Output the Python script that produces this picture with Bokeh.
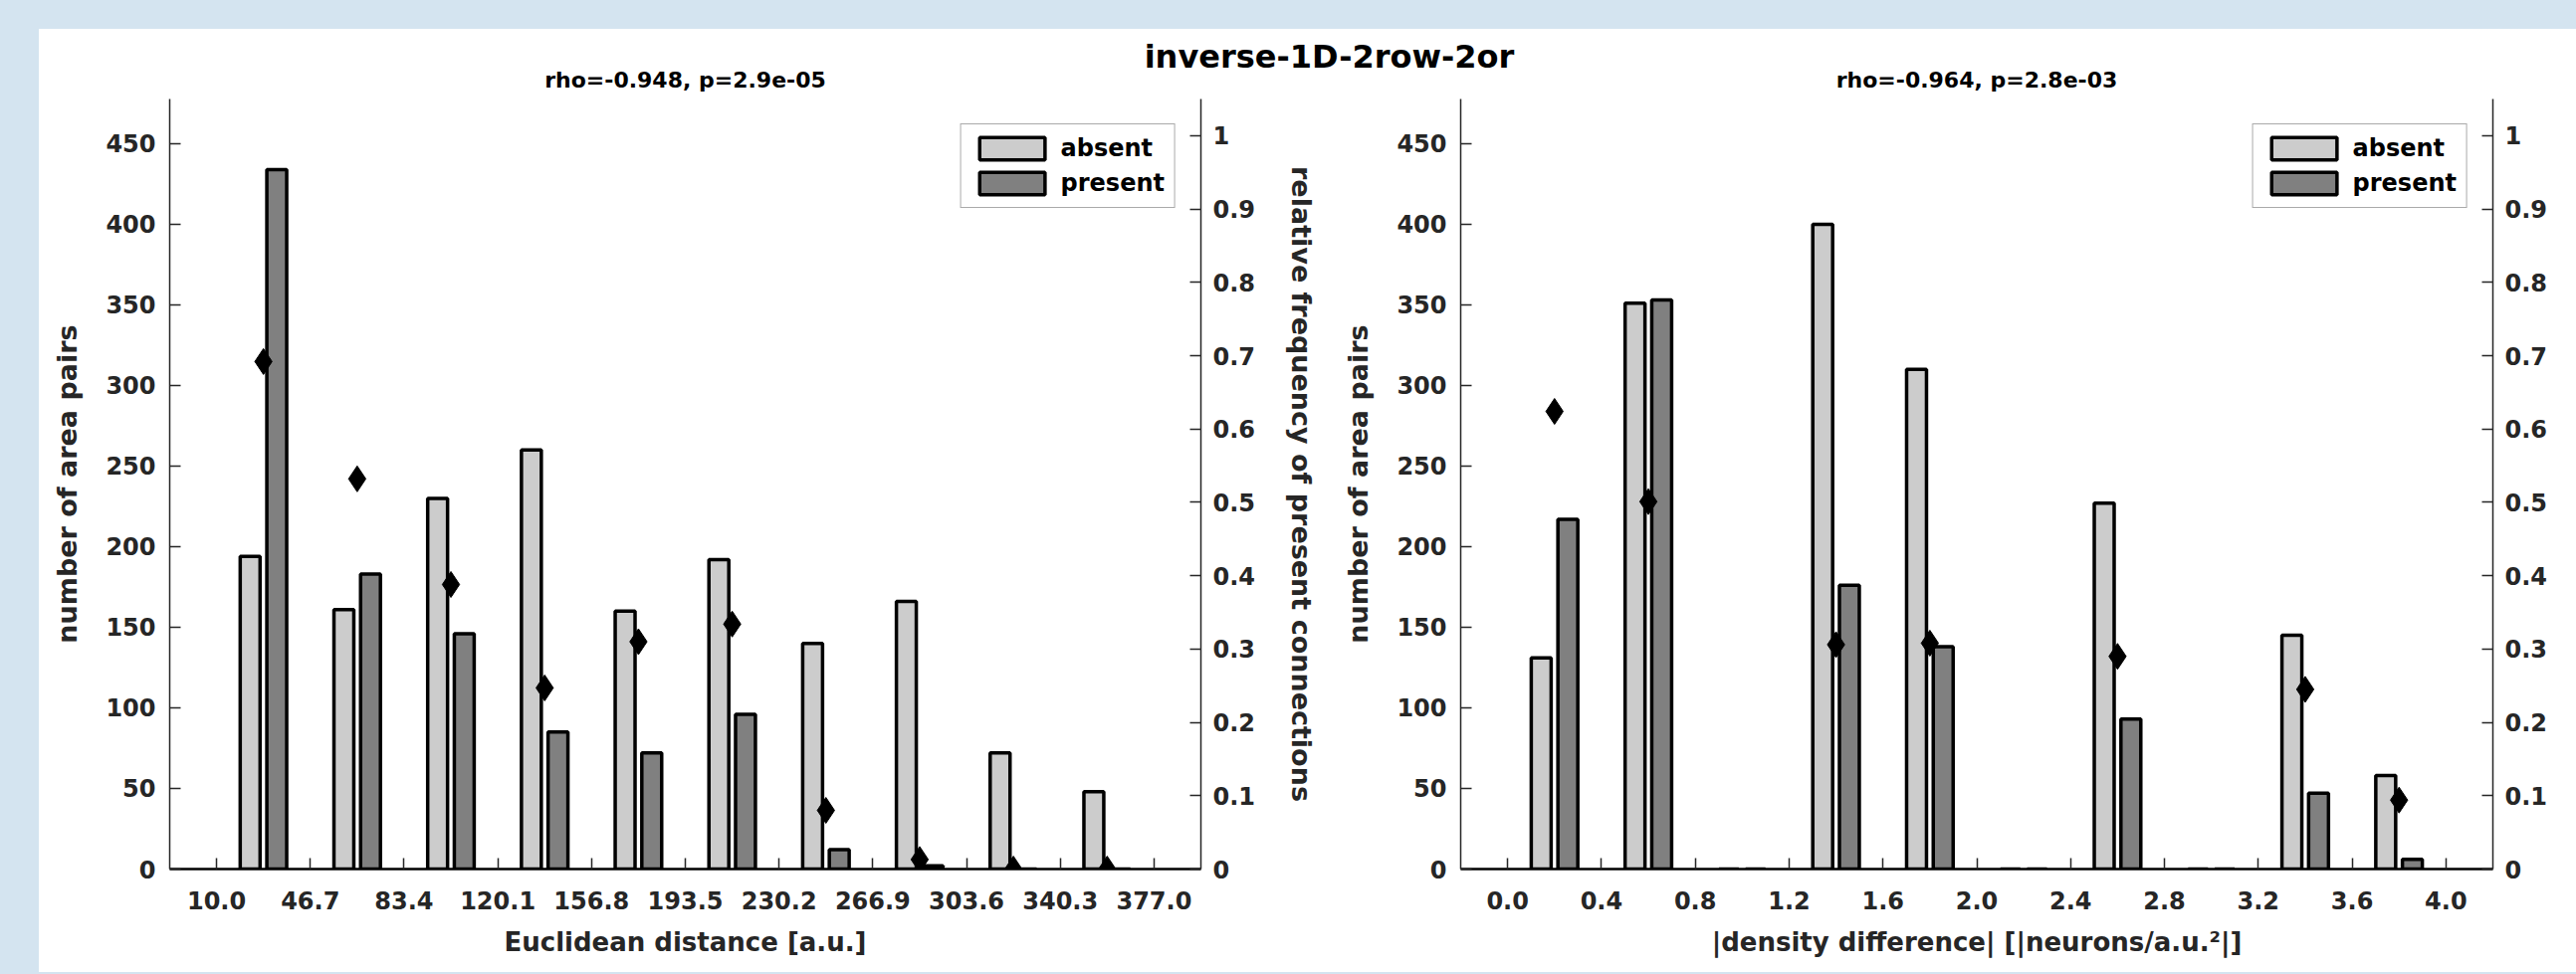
import math
from bokeh.plotting import figure
from bokeh.models import (Range1d, LinearAxis, FixedTicker, Legend, LegendItem, Label,
                          Spacer, GlobalInlineStyleSheet, NumeralTickFormatter)
from bokeh.layouts import row, column
from bokeh.embed import file_html
from bokeh.resources import INLINE

FONT = "DejaVu Sans"
NAN = float("nan")

# ---------------- data ----------------
title_text = "inverse-1D-2row-2or"
left_subtitle = "rho=-0.948, p=2.9e-05"
right_subtitle = "rho=-0.964, p=2.8e-03"

left_xlabel = "Euclidean distance [a.u.]"
right_xlabel = "|density difference| [|neurons/a.u.\u00b2|]"
count_label = "number of area pairs"
rel_label = "relative frequency of present connections"

left_ticks = [10.0, 46.7, 83.4, 120.1, 156.8, 193.5, 230.2, 266.9, 303.6, 340.3, 377.0]
left_tick_labels = ["10.0", "46.7", "83.4", "120.1", "156.8", "193.5", "230.2", "266.9", "303.6", "340.3", "377.0"]
left_centers = [28.35, 65.05, 101.75, 138.45, 175.15, 211.85, 248.55, 285.25, 321.95, 358.65]
left_absent = [194, 161, 230, 260, 160, 192, 140, 166, 72, 48]
left_present = [434, 183, 146, 85, 72, 96, 12, 2, 0, 0]
left_rel = [0.692, 0.532, 0.388, 0.247, 0.310, 0.334, 0.080, 0.013, 0.0, 0.0]

right_ticks = [0.0, 0.4, 0.8, 1.2, 1.6, 2.0, 2.4, 2.8, 3.2, 3.6, 4.0]
right_tick_labels = ["0.0", "0.4", "0.8", "1.2", "1.6", "2.0", "2.4", "2.8", "3.2", "3.6", "4.0"]
right_centers = [0.2, 0.6, 1.0, 1.4, 1.8, 2.2, 2.6, 3.0, 3.4, 3.8]
right_absent = [131, 351, 0, 400, 310, 0, 227, 0, 145, 58]
right_present = [217, 353, 0, 176, 138, 0, 93, 0, 47, 6]
right_rel = [0.624, 0.501, NAN, 0.306, 0.308, NAN, 0.290, NAN, 0.245, 0.094]

count_ticks = [0, 50, 100, 150, 200, 250, 300, 350, 400, 450]
count_tick_labels = ["0", "50", "100", "150", "200", "250", "300", "350", "400", "450"]
rel_ticks = [0, 0.1, 0.2, 0.3, 0.4, 0.5, 0.6, 0.7, 0.8, 0.9, 1]
rel_tick_labels = ["0", "0.1", "0.2", "0.3", "0.4", "0.5", "0.6", "0.7", "0.8", "0.9", "1"]

legend_labels = ["absent", "present"]
COUNT_MAX = 477.75
REL_MAX = 1.05

TEXT = "#262626"
ABSENT_COLOR = "#cccccc"
PRESENT_COLOR = "#808080"

LEFT_W = 1298
RIGHT_W = 1251
TITLE_W = LEFT_W + RIGHT_W
TITLE_H = 70
FIG_H = 878
FRAME_H = 774
BOT_B = FIG_H - FRAME_H


def style_axis(ax, label_size, label_standoff, tick_standoff):
    ax.major_label_text_font = FONT
    ax.major_label_text_font_style = "bold"
    ax.major_label_text_font_size = "24px"
    ax.major_label_text_color = TEXT
    ax.major_label_standoff = tick_standoff
    ax.axis_label_text_font = FONT
    ax.axis_label_text_font_style = "bold"
    ax.axis_label_text_font_size = label_size
    ax.axis_label_text_color = TEXT
    ax.axis_label_standoff = label_standoff
    ax.major_tick_in = 11
    ax.major_tick_out = 0
    ax.minor_tick_line_color = None
    ax.major_tick_line_color = TEXT
    ax.major_tick_line_width = 1.5
    ax.axis_line_color = TEXT
    ax.axis_line_width = 1.5


def make_panel(ticks, tick_labels, centers, absent, present, rel, xlabel,
               width, border_left, border_right, right_label):
    bw = ticks[1] - ticks[0]
    p = figure(width=width, height=FIG_H,
               x_range=Range1d(ticks[0] - bw / 2, ticks[-1] + bw / 2),
               y_range=Range1d(0, COUNT_MAX),
               output_backend="svg", toolbar_location=None,
               min_border_left=border_left, min_border_right=border_right,
               min_border_top=0, min_border_bottom=BOT_B,
               background_fill_color="white", border_fill_color="white")
    p.outline_line_color = None
    p.xgrid.grid_line_color = None
    p.ygrid.grid_line_color = None
    p.extra_y_ranges = {"rel": Range1d(0, REL_MAX)}

    off = 0.142 * bw
    w = 0.212 * bw
    ra = p.vbar(x=[c - off for c in centers], top=absent, bottom=0, width=w,
                fill_color=ABSENT_COLOR, line_color="black", line_width=3.5)
    rp = p.vbar(x=[c + off for c in centers], top=present, bottom=0, width=w,
                fill_color=PRESENT_COLOR, line_color="black", line_width=3.5)
    p.scatter(x=centers, y=rel, y_range_name="rel", marker="diamond", size=26,
              fill_color="black", line_color="black")

    # x axis
    xa = p.xaxis[0]
    xa.ticker = FixedTicker(ticks=ticks)
    xa.formatter = NumeralTickFormatter(format="0.0")
    xa.major_label_overrides = dict(zip(ticks, tick_labels))
    xa.axis_label = xlabel
    style_axis(xa, "26px", 15, 22)
    xa.axis_line_color = "black"
    xa.axis_line_width = 2.5

    # left y axis
    ya = p.yaxis[0]
    ya.ticker = FixedTicker(ticks=count_ticks)
    ya.major_label_overrides = dict(zip(count_ticks, count_tick_labels))
    ya.axis_label = count_label
    style_axis(ya, "27px", 20, 14)

    # right y axis
    yr = LinearAxis(y_range_name="rel", ticker=FixedTicker(ticks=rel_ticks),
                    formatter=NumeralTickFormatter(format="0.[0]"))
    yr.major_label_overrides = dict(zip(rel_ticks, rel_tick_labels))
    if right_label:
        yr.axis_label = rel_label
    style_axis(yr, "27px", 28, 12)
    p.add_layout(yr, "right")

    legend = Legend(items=[LegendItem(label=legend_labels[0], renderers=[ra]),
                           LegendItem(label=legend_labels[1], renderers=[rp])],
                    location="top_right")
    legend.label_text_font = FONT
    legend.label_text_font_style = "bold"
    legend.label_text_font_size = "24px"
    legend.label_text_color = "black"
    legend.border_line_color = "#555555"
    legend.border_line_width = 1.5
    legend.background_fill_color = "white"
    legend.background_fill_alpha = 1.0
    legend.glyph_width = 82
    legend.glyph_height = 28
    legend.label_height = 28
    legend.spacing = 7
    legend.padding = 10
    legend.margin = 25
    legend.label_standoff = 8
    p.add_layout(legend)
    return p


pl = make_panel(left_ticks, left_tick_labels, left_centers, left_absent, left_present, left_rel,
                left_xlabel, LEFT_W, 131, 131, True)
pr = make_panel(right_ticks, right_tick_labels, right_centers, right_absent, right_present, right_rel,
                right_xlabel, RIGHT_W, 130, 84, False)

# header strip: main title and the two panel titles
t = figure(width=TITLE_W, height=TITLE_H, x_range=Range1d(0, TITLE_W), y_range=Range1d(0, TITLE_H),
           x_axis_type=None, y_axis_type=None, toolbar_location=None, output_backend="svg",
           min_border=0, background_fill_color="white", border_fill_color="white")
t.outline_line_color = None
t.xgrid.grid_line_color = None
t.ygrid.grid_line_color = None
t.add_layout(Label(x=1296, y=43, text=title_text,
                   text_align="center", text_baseline="middle", text_font=FONT,
                   text_font_style="bold", text_font_size="32px", text_color="black"))
left_center = 131 + (LEFT_W - 262) / 2
right_center = LEFT_W + 130 + (RIGHT_W - 214) / 2
for cx, txt in ((left_center, left_subtitle), (right_center, right_subtitle)):
    t.add_layout(Label(x=cx, y=19, text=txt,
                       text_align="center", text_baseline="middle", text_font=FONT,
                       text_font_style="bold", text_font_size="22px", text_color="black"))

panel = column(t, row(pl, pr))
panel.styles = {"background-color": "white"}
p = column(Spacer(height=29), row(Spacer(width=39), panel))
p.stylesheets = [GlobalInlineStyleSheet(
    css="html, body { margin: 0 !important; padding: 0 !important; background-color: #d4e4f0; overflow: hidden; }")]

open("out.html", "w").write(file_html(p, INLINE))
